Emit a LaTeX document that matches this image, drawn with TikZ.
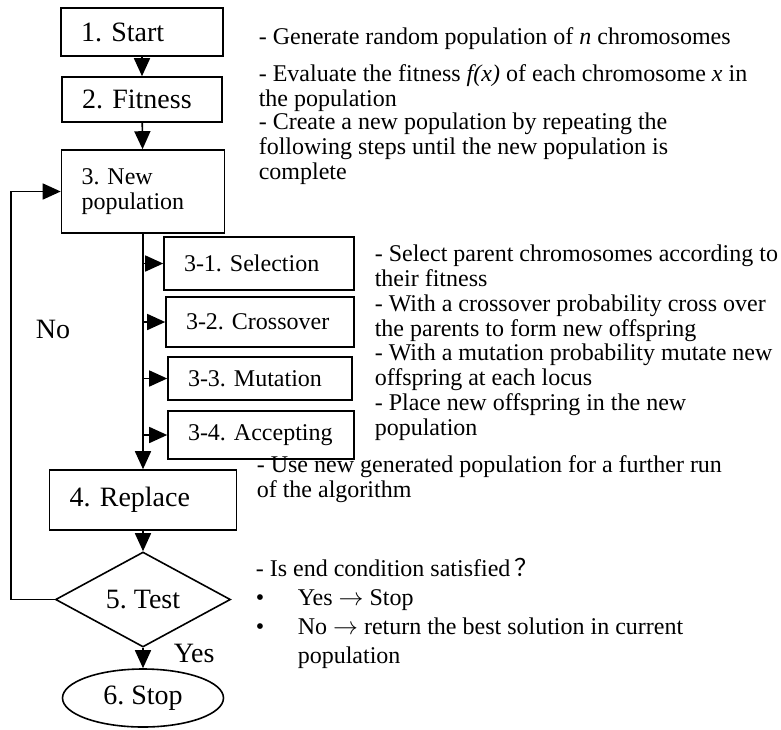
\documentclass[tikz,border=0pt]{standalone}
\usepackage{fontspec}
\setmainfont{Liberation Serif}
\newfontfamily\cjk{Noto Sans CJK SC}
\usepackage{tikz}
\usetikzlibrary{arrows.meta,shapes.geometric}
\frenchspacing
\newcommand{\bigtxt}{\fontsize{28}{32}\selectfont}
\newcommand{\midtxt}{\fontsize{24}{24.6}\selectfont}
\newcommand{\ra}{\ensuremath{\rightarrow}}

\begin{document}
\begin{tikzpicture}[x=1pt, y=-1pt, line width=1.6pt,
  arr/.style={-{Triangle[length=18pt,width=16pt]}},
  box/.style={draw, rectangle, inner xsep=20pt, inner ysep=0pt, align=left},
  note/.style={anchor=base west, inner sep=0pt, align=left, font=\midtxt}]
\useasboundingbox (0,0) rectangle (781,729);

% main column
\node[box, font=\bigtxt, text width=122pt, minimum height=48pt] (start) at (142,32) {1. Start};
\node[box, font=\bigtxt, text width=120pt, minimum height=45pt] (fit) at (142,99.5) {2. Fitness};
\node[box, font=\midtxt, text width=123pt, minimum height=83pt] (newpop) at (143,191.5) {3. New\\population};
\node[box, font=\bigtxt, text width=147pt, minimum height=60pt] (replace) at (143,500) {4. Replace};
\node[draw, diamond, aspect=1.84, inner sep=0pt, minimum width=175pt, minimum height=95pt, font=\bigtxt] (test) at (143,599.5) {5. Test};
\node[draw, ellipse, inner sep=0pt, minimum width=161pt, minimum height=58pt, font=\bigtxt] (stop) at (143,698) {6. Stop};

% sub steps
\node[box, font=\midtxt, text width=150pt, minimum height=53pt] (sel) at (259,263.5) {3-1. Selection};
\node[box, font=\midtxt, text width=148pt, minimum height=50pt] (cross) at (260,322) {3-2. Crossover};
\node[box, font=\midtxt, text width=144pt, minimum height=43pt] (mut) at (260,378.5) {3-3. Mutation};
\node[box, font=\midtxt, text width=146pt, minimum height=48pt] (acc) at (261,435) {3-4. Accepting};

\draw[arr] (start) -- (fit);
\draw[arr] (fit) -- (newpop);
\draw[arr] (newpop) -- (replace);
\foreach \s in {sel,cross,mut,acc}
  \draw[arr] (newpop.south |- \s.west) -- (\s.west);
\draw[arr] (replace) -- (test);
\draw[arr] (test) -- (stop);
\draw[arr] (test.west) -- ++(-43.5,0) |- (newpop.west);

\node[anchor=base west, inner sep=0pt, font=\bigtxt] (no) at (35,338) {No};
\node[anchor=base west, inner sep=0pt, font=\bigtxt] (yes) at (173,662) {Yes};

% descriptions (base = last line)
\node[note] (genT) at (258,44) {- Generate random population of \textit{n} chromosomes};
\node[note] (evalT) at (258,106) {- Evaluate the fitness \textit{f(x)} of each chromosome \textit{x} in\\the population};
\node[note] (newT) at (258,179) {- Create a new population by repeating the\\following steps until the new population is\\complete};
\node[note] (selT) at (374,286) {- Select parent chromosomes according to\\their fitness};
\node[note] (crossT) at (374,336) {- With a crossover probability cross over\\the parents to form new offspring};
\node[note] (mutT) at (374,385) {- With a mutation probability mutate new\\offspring at each locus};
\node[note] (accT) at (374,435) {- Place new offspring in the new\\population};
\node[note] (repT) at (256,497) {- Use new generated population for a further run\\of the algorithm};
\node[note, font=\fontsize{24}{29}\selectfont] (testT) at (255,663) {- Is end condition satisfied\,{\cjk ？}\\\makebox[42pt][l]{\textbullet}Yes \ra{} Stop\\\makebox[42pt][l]{\textbullet}No \ra{} return the best solution in current\\\hspace*{42pt}population};
\end{tikzpicture}
\end{document}
